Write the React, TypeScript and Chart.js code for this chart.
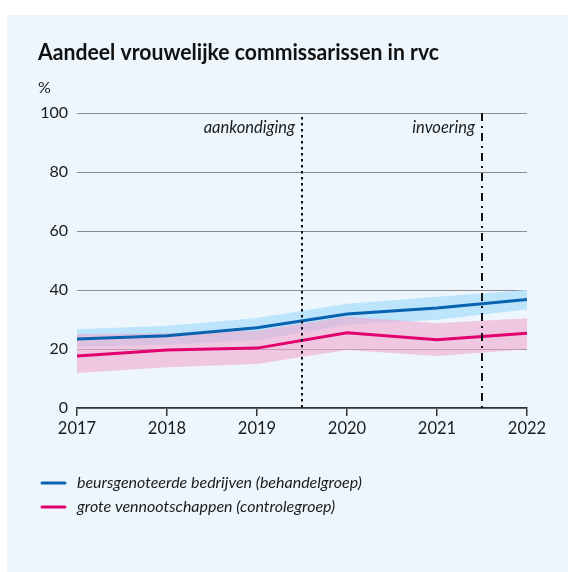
import React, { useEffect, useRef } from "react";
import { Chart, registerables } from "chart.js";

Chart.register(...registerables);

const years = [2017, 2018, 2019, 2020, 2021, 2022];
const beursValues = [23.4, 24.5, 27.2, 31.9, 33.9, 36.8];
const beursUpper = [26.7, 27.9, 30.5, 35.3, 37.7, 40.0];
const beursLower = [20.8, 21.4, 23.0, 28.2, 29.9, 33.4];
const groteValues = [17.6, 19.7, 20.3, 25.5, 23.1, 25.3];
const groteUpper = [25.0, 25.3, 26.2, 30.9, 28.7, 30.4];
const groteLower = [11.9, 13.8, 14.9, 19.7, 17.6, 19.9];
const yTicks = [0, 20, 40, 60, 80, 100];
const events = [
  { x: 2019.5, label: "aankondiging", dash: [2.5, 3.5] },
  { x: 2021.5, label: "invoering", dash: [8, 5, 2, 5] },
];
const legendItems = [
  { label: "beursgenoteerde bedrijven (behandelgroep)", color: "#0a63b0" },
  { label: "grote vennootschappen (controlegroep)", color: "#e2006f" },
];
const titleText = "Aandeel vrouwelijke commissarissen in rvc";
const unitText = "%";

const FONT = "Lato, 'Noto Sans', sans-serif";
const TEXT = "#1b1b1b";

const pts = (vals: number[]) => vals.map((v, i) => ({ x: years[i], y: v }));

const overlay = {
  id: "overlay",
  afterDatasetsDraw(chart: any) {
    const { ctx, chartArea, scales } = chart;
    const xs = scales.x;
    const ys = scales.y;
    ctx.save();
    events.forEach((e, i) => {
      const px = Math.round(xs.getPixelForValue(e.x));
      ctx.beginPath();
      ctx.setLineDash(e.dash);
      ctx.strokeStyle = "#111";
      ctx.lineWidth = 2;
      ctx.moveTo(px, chartArea.top + (i === 0 ? 4 : 0));
      ctx.lineTo(px, chartArea.bottom);
      ctx.stroke();
      ctx.setLineDash([]);
      ctx.font = `italic 16.5px ${FONT}`;
      ctx.fillStyle = TEXT;
      ctx.textAlign = "right";
      ctx.textBaseline = "middle";
      ctx.fillText(e.label, px - 7, ys.getPixelForValue(94.9));
    });
    ctx.restore();
  },
  afterDraw(chart: any) {
    const { ctx } = chart;
    ctx.save();
    // title (condensed to the reference width)
    const size = 22.5;
    ctx.font = `bold ${size}px ${FONT}`;
    const w = ctx.measureText(titleText).width;
    const sx = 401 / w;
    ctx.fillStyle = "#111";
    ctx.textAlign = "left";
    ctx.textBaseline = "middle";
    ctx.save();
    ctx.translate(31, 38);
    ctx.scale(sx, 1);
    ctx.fillText(titleText, 0, 0);
    ctx.restore();
    // unit
    ctx.font = `16px ${FONT}`;
    ctx.fillStyle = TEXT;
    ctx.fillText(unitText, 31, 73);
    // legend
    legendItems.forEach((it, i) => {
      const y = 468 + i * 24;
      ctx.beginPath();
      ctx.strokeStyle = it.color;
      ctx.lineWidth = 3;
      ctx.lineCap = "round";
      ctx.moveTo(35, y);
      ctx.lineTo(58, y);
      ctx.stroke();
      ctx.font = `italic 16px ${FONT}`;
      ctx.fillStyle = TEXT;
      ctx.fillText(it.label, 70, y);
    });
    ctx.restore();
  },
};

export default function App() {
  const ref = useRef<HTMLCanvasElement>(null);
  useEffect(() => {
    const canvas = ref.current!;
    const chart = new Chart(canvas, {
      type: "line",
      data: {
        datasets: [
          {
            label: "beurs",
            data: pts(beursValues),
            borderColor: "#0a63b0",
            borderWidth: 3,
            pointRadius: 0,
            fill: false,
            order: 0,
          } as any,
          {
            label: "grote",
            data: pts(groteValues),
            borderColor: "#e2006f",
            borderWidth: 3,
            pointRadius: 0,
            fill: false,
            order: 0,
          } as any,
          {
            label: "beursUpper",
            data: pts(beursUpper),
            borderWidth: 0,
            borderColor: "rgba(0,0,0,0)",
            pointRadius: 0,
            backgroundColor: "rgb(188,228,251)",
            fill: "+1",
            order: 3,
          } as any,
          {
            label: "beursLower",
            data: pts(beursLower),
            borderWidth: 0,
            borderColor: "rgba(0,0,0,0)",
            pointRadius: 0,
            fill: false,
            order: 3,
          } as any,
          {
            label: "groteUpper",
            data: pts(groteUpper),
            borderWidth: 0,
            borderColor: "rgba(0,0,0,0)",
            pointRadius: 0,
            backgroundColor: "rgba(242,168,206,0.6)",
            fill: "+1",
            order: 2,
          } as any,
          {
            label: "groteLower",
            data: pts(groteLower),
            borderWidth: 0,
            borderColor: "rgba(0,0,0,0)",
            pointRadius: 0,
            fill: false,
            order: 2,
          } as any,
        ],
      },
      options: {
        animation: false,
        responsive: false,
        devicePixelRatio: 1,
        layout: { padding: { top: 98, right: 41, bottom: 124, left: 0 } },
        plugins: {
          legend: { display: false },
          title: { display: false },
          tooltip: { enabled: false },
        },
        scales: {
          x: {
            type: "linear",
            min: years[0],
            max: years[years.length - 1],
            afterFit: (s: any) => {
              s.height = 40;
            },
            afterBuildTicks: (s: any) => {
              s.ticks = years.map((v) => ({ value: v }));
            },
            ticks: {
              callback: (v: any) => String(v),
              font: { family: FONT, size: 16.5 },
              color: TEXT,
              padding: 3,
              maxRotation: 0,
            },
            grid: {
              drawOnChartArea: false,
              drawTicks: true,
              tickLength: 8,
              color: "#333",
              lineWidth: 1.5,
            },
            border: { display: true, color: "#333", width: 1.5 },
          },
          y: {
            min: 0,
            max: 100,
            afterFit: (s: any) => {
              s.width = 70;
            },
            afterBuildTicks: (s: any) => {
              s.ticks = yTicks.map((v) => ({ value: v }));
            },
            ticks: {
              font: { family: FONT, size: 16 },
              color: TEXT,
              padding: 9,
            },
            grid: {
              drawTicks: false,
              color: "#8c8c8c",
              lineWidth: 1,
            },
            border: { display: false },
          },
        },
      },
      plugins: [overlay],
    } as any);
    return () => chart.destroy();
  }, []);
  return (
    <div
      style={{
        position: "absolute",
        left: 7,
        top: 15,
        width: 561,
        height: 557,
        background: "#edf6fd",
      }}
    >
      <canvas ref={ref} width={561} height={557} style={{ display: "block" }} />
    </div>
  );
}
